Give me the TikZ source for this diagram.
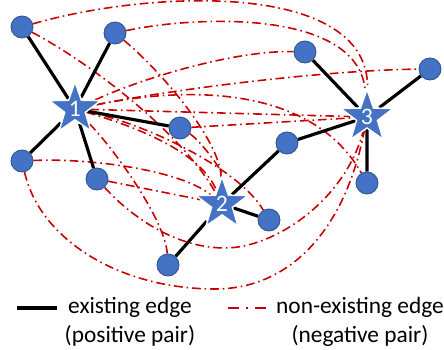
\documentclass[tikz,border=0pt]{standalone}
\usepackage{fontspec}
\setmainfont{Carlito}
\usetikzlibrary{shapes.geometric,backgrounds}
\definecolor{nodeblue}{HTML}{4472C4}
\definecolor{nodeedge}{HTML}{2F528F}
\definecolor{negred}{HTML}{C80000}
\begin{document}
\begin{tikzpicture}[x=0.02cm,y=-0.02cm,
  vert/.style={circle,fill=nodeblue,draw=nodeedge,line width=0.5pt,minimum size=0.44cm,inner sep=0pt},
  anchorstar/.style={star,star points=5,star point ratio=2.5,fill=nodeblue,draw=white,line width=0.8pt,
    minimum size=0.70cm,inner sep=0pt,text=white,font=\fontsize{13.5}{13.5}\selectfont},
  posedge/.style={line width=1.8pt,black},
  negedge/.style={negred,line width=0.9pt,dash pattern=on 5pt off 2.2pt on 0.9pt off 2.2pt},
  negleg/.style={negred,line width=1.5pt,dash pattern=on 6.3pt off 4pt on 1.2pt off 4pt},
  legtext/.style={align=center,inner sep=0pt,font=\fontsize{13.3}{16.5}\selectfont}]
\useasboundingbox (0,0) rectangle (444,350);
% nodes
\node[vert] (A) at (22,27) {};
\node[vert] (B) at (115,33) {};
\node[vert] (C) at (180,128) {};
\node[vert] (D) at (22,161) {};
\node[vert] (E) at (97,179) {};
\node[vert] (F) at (269,220) {};
\node[vert] (G) at (168,265) {};
\node[vert] (H) at (305,52) {};
\node[vert] (I) at (430,69) {};
\node[vert] (J) at (287,143) {};
\node[vert] (K) at (367,183) {};
\node[anchorstar] (S1) at (75,109) {1};
\node[anchorstar] (S2) at (222,204) {2};
\node[anchorstar] (S3) at (367,117) {3};
\begin{scope}[on background layer]
% negative pairs
\draw[negedge] (A) .. controls (150,-10) and (370,-20) .. (S3);
\draw[negedge] (B) .. controls (200,15) and (360,10) .. (S3);
\draw[negedge] (D) .. controls (40,240) and (120,289) .. (215,289) .. controls (290,289) and (345,230) .. (S3);
\draw[negedge] (E) .. controls (125,210) and (170,248) .. (225,248) .. controls (275,248) and (345,200) .. (S3);
\draw[negedge] (C) -- (S3);
\draw[negedge] (S1) -- (S3);
\draw[negedge] (A) .. controls (85,60) and (180,130) .. (S2);
\draw[negedge] (B) .. controls (160,70) and (220,140) .. (S2);
\draw[negedge] (C) .. controls (200,140) and (222,170) .. (S2);
\draw[negedge] (D) .. controls (90,158) and (180,170) .. (S2);
\draw[negedge] (E) -- (S2);
\draw[negedge] (S1) .. controls (130,125) and (200,150) .. (S2);
\draw[negedge] (S1) .. controls (150,125) and (240,170) .. (F);
\draw[negedge] (S1) .. controls (115,150) and (165,220) .. (G);
\draw[negedge] (S1) .. controls (150,75) and (240,50) .. (H);
\draw[negedge] (S1) .. controls (180,88) and (330,70) .. (I);
\draw[negedge] (S1) .. controls (220,80) and (320,100) .. (K);
% positive pairs
\draw[posedge] (S1) -- (A);
\draw[posedge] (S1) -- (B);
\draw[posedge] (S1) -- (C);
\draw[posedge] (S1) -- (D);
\draw[posedge] (S1) -- (E);
\draw[posedge] (S2) -- (G);
\draw[posedge] (S2) -- (F);
\draw[posedge] (S2) -- (J);
\draw[posedge] (J) -- (S3);
\draw[posedge] (S3) -- (H);
\draw[posedge] (S3) -- (I);
\draw[posedge] (S3) -- (K);
\end{scope}
% legend
\coordinate (pl1) at (17,308);
\coordinate (pl2) at (57,308);
\draw[posedge] (pl1) -- (pl2);
\node[legtext] (pt) at (130,322) {existing edge\\(positive pair)};
\coordinate (nl1) at (228,308);
\coordinate (nl2) at (268,308);
\draw[negleg] (nl1) -- (nl2);
\node[legtext] (nt) at (360,322) {non-existing edge\\(negative pair)};
\end{tikzpicture}
\end{document}
